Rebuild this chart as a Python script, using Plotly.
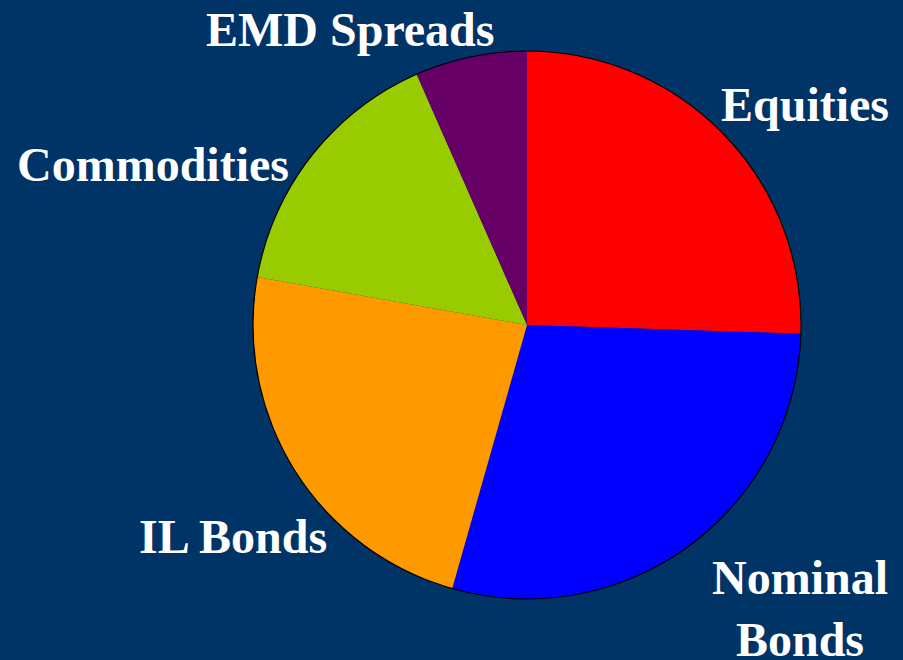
import plotly.graph_objects as go

labels = ["Equities", "Nominal Bonds", "IL Bonds", "Commodities", "EMD Spreads"]
values = [25.5, 28.9, 23.4, 15.6, 6.6]
colors = ["#FF0000", "#0000FF", "#FF9900", "#99CC00", "#660066"]

label_text = ["Equities", "Nominal<br>Bonds", "IL Bonds", "Commodities", "EMD Spreads"]
label_x = [805, 800, 233, 153, 350]
label_y = [104, 608, 536, 164, 29]

W, H = 903, 660
cx, cy, r = 527, 325, 274

fig = go.Figure(go.Pie(
    labels=labels, values=values, sort=False, direction="clockwise", rotation=0,
    marker=dict(colors=colors, line=dict(width=0)),
    textinfo="none", hoverinfo="label+percent",
    domain=dict(x=[(cx - r) / W, (cx + r) / W], y=[(H - cy - r) / H, (H - cy + r) / H]),
    showlegend=False,
))

fig.add_shape(type="circle", xref="paper", yref="paper",
              x0=(cx - r) / W, x1=(cx + r) / W, y0=(H - cy - r) / H, y1=(H - cy + r) / H,
              line=dict(color="black", width=1.2))

for t, x, y in zip(label_text, label_x, label_y):
    fig.add_annotation(text=t, x=x / W, y=1 - y / H, xref="paper", yref="paper",
                       xanchor="center", yanchor="middle", showarrow=False,
                       font=dict(family="Liberation Serif", size=48, color="white", weight="bold"))

fig.update_layout(width=W, height=H, margin=dict(l=0, r=0, t=0, b=0),
                  paper_bgcolor="#003366", plot_bgcolor="#003366")

fig.write_html("out.html")
